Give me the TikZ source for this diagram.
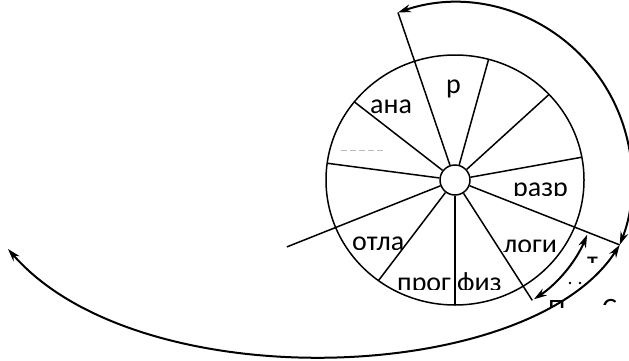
\documentclass[tikz,border=0pt]{standalone}
\usepackage{fontspec}
\setmainfont{Carlito}
\usetikzlibrary{arrows.meta,calc}

% label cut off at the bottom: name, x, baseline, cut, text
\newcommand{\cutlabel}[5]{%
  \begin{scope}
    \clip (#2-5,#4) rectangle (#2+80,#4+40);
    \node[lbl, anchor=base west] (#1) at (#2,#3) {#5};
  \end{scope}}

\begin{document}
\begin{tikzpicture}[x=1pt, y=1pt,
  spoke/.style  = {line width=1.5pt},
  spiral/.style = {line width=2pt,
                   {Stealth[length=13pt,width=8pt]}-{Stealth[length=13pt,width=8pt]}},
  lbl/.style    = {inner sep=0pt, font=\fontsize{28}{32}\selectfont}
]
\useasboundingbox (0,0) rectangle (629,360);

% --- hub and rim ---
\node[draw, circle, line width=1.5pt, minimum size=30pt, inner sep=0pt] (hub) at (455,180) {};
\draw[spoke] (hub.center) ellipse[x radius=129pt, y radius=125pt];

% --- spokes ---
\foreach \a in {74.9,43.2,10.5,-90,-126.4,172.3,141.3}
  \draw[spoke] (hub) -- ($(hub.center)+(\a:129 and 125)$);

\coordinate (top)   at ($(hub.center)+(108.8:177)$);
\coordinate (turn)  at ($(hub.center)+(-21.5:177)$);
\coordinate (inner) at ($(hub.center)+(-57.3:143)$);
\coordinate (tail)  at ($(hub.center)+(-158.3:181)$);
\coordinate (outer) at (8,111);
\foreach \c in {top,turn,inner,tail}
  \draw[spoke] (hub) -- (\c);

% --- spiral turns ---
\draw[spiral] (top) arc[start angle=108.8, end angle=-21.5, radius=177pt];
\draw[spiral] (turn) .. controls (530,-25) and (140,-40) .. (outer);
\draw[spiral] ($(hub.center)+(-22.5:143)$) arc[start angle=-22.5, end angle=-56.5, radius=143pt];

% --- sector labels ---
\node[lbl, anchor=base west] (r)   at (446,267) {р};
\node[lbl, anchor=base west] (ana) at (370,247) {ана};
\draw[gray!55, line width=0.7pt, dash pattern=on 6pt off 3pt] (341,210) -- (383,210);
\cutlabel{razr}{513}{163.5}{165}{разр}
\cutlabel{otla}{352}{110}{111}{отла}
\cutlabel{logi}{503}{107}{109}{логи}
\cutlabel{prog}{397}{69}{71}{прог}
\cutlabel{fiz}{457}{69}{71}{физ}

% --- fragments near the turn ---
\cutlabel{fa}{587}{90}{98}{т}
\cutlabel{fb}{548}{42}{53}{П}
\cutlabel{fc}{602}{43}{56}{С}
\fill (570,77) circle (1.3);
\fill (580,77) circle (1.3);

\end{tikzpicture}
\end{document}
